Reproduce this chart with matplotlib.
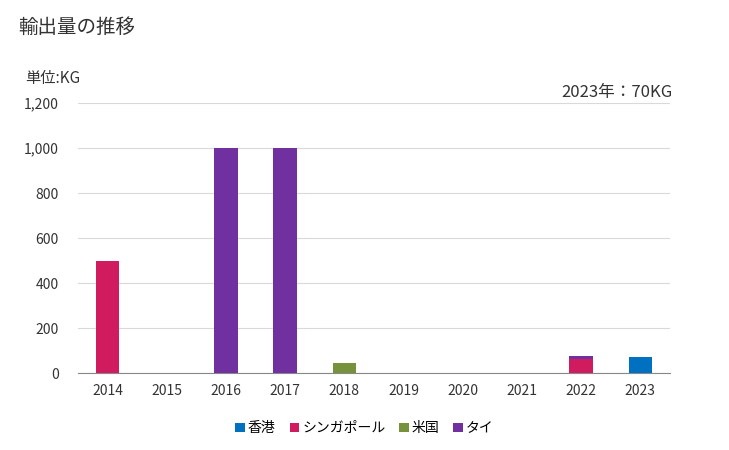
import matplotlib
matplotlib.use("Agg")
import matplotlib.pyplot as plt
import numpy as np

plt.rcParams['font.family'] = ['Noto Sans CJK JP', 'DejaVu Sans']

years = ['2014', '2015', '2016', '2017', '2018', '2019', '2020', '2021', '2022', '2023']
series = ['香港', 'シンガポール', '米国', 'タイ']
colors = ['#0070C0', '#D01C5F', '#76923C', '#7030A0']
hongkong = [0, 0, 0, 0, 0, 0, 0, 0, 0, 70]
singapore = [500, 0, 0, 0, 0, 0, 0, 0, 62, 0]
usa = [0, 0, 0, 0, 45, 0, 0, 0, 0, 0]
thai = [0, 0, 1000, 1000, 0, 0, 0, 0, 15, 0]
values = [hongkong, singapore, usa, thai]

fig = plt.figure(figsize=(7.29, 4.5), dpi=100)
ax = fig.add_axes([0.107, 0.171, 0.812, 0.6])

x = np.arange(len(years))
bottom = np.zeros(len(years))
for name, vals, c in zip(series, values, colors):
    v = np.array(vals, dtype=float)
    ax.bar(x, v, 0.4, bottom=bottom, color=c, label=name, zorder=3)
    bottom += v

ax.set_xlim(-0.5, len(years) - 0.5)
ax.set_ylim(0, 1200)
ax.set_yticks(range(0, 1201, 200))
ax.set_yticklabels([f'{t:,}' for t in range(0, 1201, 200)])
ax.set_xticks(x)
ax.set_xticklabels(years)
ax.grid(axis='y', color='#D9D9D9', linewidth=0.8, zorder=0)
for s in ['top', 'right', 'left']:
    ax.spines[s].set_visible(False)
ax.spines['bottom'].set_color('#888888')
ax.tick_params(axis='both', length=0, labelsize=10, colors='#333333')
ax.tick_params(axis='y', pad=14)
ax.tick_params(axis='x', pad=8)

fig.text(0.025, 0.94, '輸出量の推移', fontsize=14, color='#333333', va='center')
fig.text(0.035, 0.825, '単位:KG', fontsize=11, color='#333333', va='center')
fig.text(0.923, 0.795, '2023年：70KG', fontsize=12, color='#333333', ha='right', va='center')

fig.legend(loc='lower center', bbox_to_anchor=(0.5, 0.005), ncol=4, frameon=False,
           fontsize=10, handlelength=0.7, handleheight=0.7, handletextpad=0.2,
           columnspacing=1.0)

fig.savefig('out.png', dpi=100)
